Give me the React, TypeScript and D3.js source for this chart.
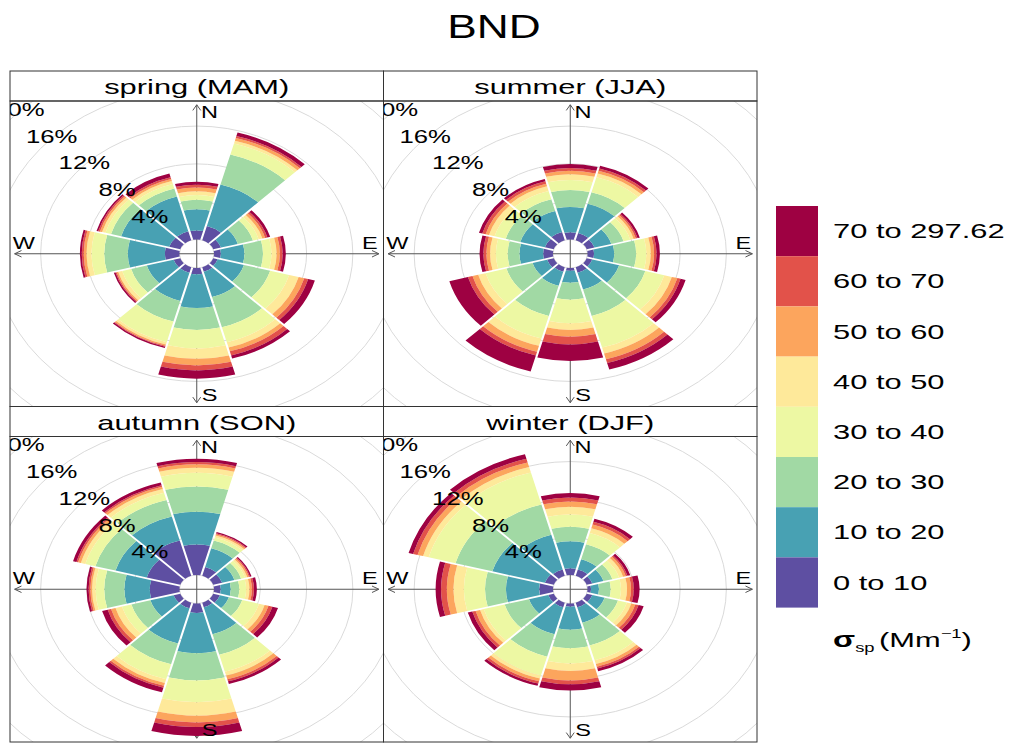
import React from "react";
import * as d3 from "d3";

// Wind sectors (degrees clockwise from north), 30° wide
const directions = [0, 30, 60, 90, 120, 150, 180, 210, 240, 270, 300, 330];

// Scattering-coefficient bins (Mm^-1)
const binLabels = [
  "0 to 10",
  "10 to 20",
  "20 to 30",
  "30 to 40",
  "40 to 50",
  "50 to 60",
  "60 to 70",
  "70 to 297.62",
];

const seasonNames = ["spring (MAM)", "summer (JJA)", "autumn (SON)", "winter (DJF)"];

// Frequency (%) of each bin per sector, one row per direction
const springFreq = [
  [0.96, 2.24, 1.0, 0.5, 0.4, 0.4, 0.3, 0.3],
  [1.55, 4.55, 3.3, 1.2, 0.3, 0.3, 0.2, 0.4],
  [0.7, 1.5, 1.36, 0.51, 0.33, 0.25, 0.2, 0.25],
  [0.58, 2.04, 1.61, 0.73, 0.44, 0.29, 0.24, 0.27],
  [0.4, 2.35, 2.35, 1.7, 0.85, 0.5, 0.35, 0.6],
  [0.5, 2.77, 3.3, 1.63, 0.6, 0.4, 0.45, 0.35],
  [0.67, 3.57, 2.32, 1.94, 1.1, 0.7, 0.53, 0.87],
  [0.6, 3.1, 2.25, 2.25, 0.25, 0.15, 0.1, 0.15],
  [0.6, 2.4, 1.4, 0.8, 0.36, 0.14, 0.1, 0.15],
  [1.25, 3.21, 2.04, 1.1, 0.43, 0.24, 0.17, 0.16],
  [1.0, 4.3, 0.9, 0.5, 0.3, 0.2, 0.15, 0.15],
  [1.0, 3.8, 0.86, 0.49, 0.33, 0.22, 0.2, 0.4],
];

const summerFreq = [
  [0.78, 2.67, 1.79, 1.06, 0.6, 0.37, 0.29, 0.42],
  [0.8, 3.2, 1.25, 1.65, 0.4, 0.3, 0.25, 0.3],
  [0.7, 1.5, 1.1, 0.6, 0.3, 0.2, 0.15, 0.2],
  [0.55, 1.75, 1.9, 0.88, 0.38, 0.29, 0.21, 0.29],
  [0.5, 2.4, 2.35, 1.69, 0.68, 0.5, 0.28, 0.45],
  [0.6, 1.85, 2.88, 3.47, 0.65, 0.62, 0.41, 0.72],
  [0.3, 1.27, 1.78, 2.5, 0.71, 0.71, 0.82, 1.75],
  [0.5, 1.54, 3.29, 2.47, 0.8, 0.64, 0.41, 1.75],
  [0.6, 1.3, 2.34, 1.86, 0.67, 0.51, 0.41, 1.66],
  [0.84, 2.05, 1.02, 1.02, 0.5, 0.32, 0.26, 0.33],
  [0.8, 2.2, 1.3, 1.0, 0.5, 0.3, 0.3, 0.3],
  [0.9, 2.3, 1.3, 0.9, 0.5, 0.3, 0.25, 0.25],
];

const autumnFreq = [
  [3.24, 3.46, 2.67, 1.43, 0.53, 0.37, 0.24, 0.36],
  [0.97, 2.03, 0.85, 0.35, 0.2, 0.15, 0.1, 0.15],
  [0.8, 1.1, 0.6, 0.35, 0.2, 0.15, 0.1, 0.13],
  [0.58, 0.87, 0.73, 0.59, 0.29, 0.21, 0.18, 0.25],
  [0.6, 0.8, 1.2, 1.5, 0.5, 0.35, 0.35, 0.5],
  [0.5, 2.94, 2.26, 1.85, 0.42, 0.41, 0.22, 0.3],
  [1.0, 4.27, 2.86, 2.31, 1.43, 0.71, 0.47, 0.95],
  [0.6, 3.87, 2.26, 1.65, 0.42, 0.3, 0.2, 0.5],
  [0.6, 2.08, 1.7, 0.84, 0.58, 0.4, 0.3, 0.5],
  [2.56, 2.2, 1.74, 0.74, 0.31, 0.15, 0.15, 0.18],
  [3.0, 2.8, 1.8, 0.9, 0.4, 0.25, 0.15, 0.3],
  [3.85, 2.65, 1.8, 0.8, 0.4, 0.25, 0.15, 0.3],
];

const winterFreq = [
  [0.71, 2.85, 1.54, 1.3, 0.83, 0.54, 0.43, 0.46],
  [0.7, 1.1, 1.64, 1.23, 0.53, 0.4, 0.3, 0.35],
  [0.5, 1.0, 0.8, 0.6, 0.35, 0.25, 0.15, 0.25],
  [0.3, 0.69, 1.01, 0.89, 0.52, 0.35, 0.24, 0.5],
  [0.5, 1.1, 1.2, 0.8, 0.4, 0.35, 0.3, 0.45],
  [0.5, 1.7, 2.47, 1.63, 0.4, 0.3, 0.2, 0.3],
  [0.35, 2.43, 1.96, 1.6, 0.79, 1.0, 0.42, 0.65],
  [0.5, 2.94, 2.46, 2.07, 0.33, 0.3, 0.25, 0.25],
  [0.5, 1.72, 2.18, 1.87, 0.33, 0.4, 0.3, 0.4],
  [1.19, 2.87, 1.81, 1.83, 0.9, 0.57, 0.5, 0.47],
  [0.8, 4.7, 3.3, 2.4, 0.5, 0.5, 0.4, 0.4],
  [0.7, 3.8, 3.3, 3.5, 0.6, 0.5, 0.4, 0.5],
];

const seasonFreqs = [springFreq, summerFreq, autumnFreq, winterFreq];

// Grid rings (%) and their labels
const ringTicks = [0, 4, 8, 12, 16, 20];
const ringLabelTicks = [4, 8, 12, 16, 20];

const compass = [
  { label: "N", ang: 0 },
  { label: "E", ang: 90 },
  { label: "S", ang: 180 },
  { label: "W", ang: 270 },
];

// ---- layout ----
const FONT = "'Liberation Sans', Arial, Helvetica, sans-serif";
const TX = 1.47; // horizontal text stretch
const colX = [10, 383.5];
const panelW = 373.5;
const rowY = [71, 406.5];
const stripH = 30;
const plotH = 305.5;
const HOLE = 1.5; // empty centre, in % units
const DOM = 16.15; // half-extent of each panel in radius units
const UPPER = 15.75; // axis arrow length in radius units

const binColors = (() => {
  const interp = d3.piecewise(d3.interpolateRgb, d3.schemeSpectral[11].slice().reverse());
  return binLabels.map((_, i) => interp(i / (binLabels.length - 1)));
})();

const deg = Math.PI / 180;

function SText({ x, y, size, children, anchor = "middle", sx = TX, weight = "normal", baseline = "central" }: any) {
  return (
    <text
      transform={`translate(${x},${y}) scale(${sx},1)`}
      textAnchor={anchor}
      dominantBaseline={baseline}
      fontSize={size}
      fontFamily={FONT}
      fontWeight={weight}
      fill="#000"
    >
      {children}
    </text>
  );
}

function Panel({ idx }: { idx: number }) {
  const col = idx % 2;
  const row = Math.floor(idx / 2);
  const x0 = colX[col];
  const y0 = rowY[row];
  const plotTop = y0 + stripH;
  const xs = d3.scaleLinear().domain([-DOM, DOM]).range([x0, x0 + panelW]);
  const ys = d3.scaleLinear().domain([-DOM, DOM]).range([plotTop + plotH, plotTop]);
  const rScale = d3.scaleLinear().domain([0, 20]).range([HOLE, HOLE + 20]);
  const cx = xs(0);
  const cy = ys(0);
  const kx = xs(1) - xs(0);
  const ky = ys(0) - ys(1);
  const freq = seasonFreqs[idx];
  const clipId = `clip-${idx}`;

  const arcGen = d3.arc<any>().padAngle(0.018).padRadius(10);

  // axis with arrowheads at both ends
  const L = 6.5;
  const stretch = kx / ky;
  const ax = UPPER * kx;
  const ay = UPPER * ky;
  const wingX = L * Math.cos(30 * deg) * stretch;
  const wingY = L * Math.sin(30 * deg);
  const axisPaths = [
    `M${cx - ax},${cy}L${cx + ax},${cy}`,
    `M${cx + ax - wingX},${cy - wingY}L${cx + ax},${cy}L${cx + ax - wingX},${cy + wingY}`,
    `M${cx - ax + wingX},${cy - wingY}L${cx - ax},${cy}L${cx - ax + wingX},${cy + wingY}`,
    `M${cx},${cy - ay}L${cx},${cy + ay}`,
    `M${cx - wingY * stretch},${cy - ay + L * Math.cos(30 * deg)}L${cx},${cy - ay}L${cx + wingY * stretch},${cy - ay + L * Math.cos(30 * deg)}`,
    `M${cx - wingY * stretch},${cy + ay - L * Math.cos(30 * deg)}L${cx},${cy + ay}L${cx + wingY * stretch},${cy + ay - L * Math.cos(30 * deg)}`,
  ];

  const compassPos = (ang: number) => {
    const u = UPPER;
    if (ang === 0) return [xs(0.07 * u), ys(0.95 * u)];
    if (ang === 180) return [xs(0.07 * u), ys(-0.95 * u)];
    if (ang === 90) return [xs(0.95 * u), ys(0.07 * u)];
    return [xs(-0.95 * u), ys(0.07 * u)];
  };

  return (
    <g>
      <defs>
        <clipPath id={clipId}>
          <rect x={x0} y={plotTop} width={panelW} height={plotH} />
        </clipPath>
      </defs>
      <g clipPath={`url(#${clipId})`}>
        {ringTicks.map((t) => (
          <ellipse
            key={t}
            cx={cx}
            cy={cy}
            rx={rScale(t) * kx}
            ry={rScale(t) * ky}
            fill="none"
            stroke="#dadada"
            strokeWidth={1}
          />
        ))}
        {axisPaths.map((d, i) => (
          <path key={i} d={d} fill="none" stroke="#555" strokeWidth={1} />
        ))}
        <g transform={`translate(${cx},${cy}) scale(${kx},${ky})`}>
          {directions.map((dir, di) => {
            const cum = d3.cumsum(freq[di]);
            return freq[di].map((v, bi) => {
              const lo = bi === 0 ? 0 : cum[bi - 1];
              const hi = cum[bi];
              const d = arcGen({
                innerRadius: rScale(lo),
                outerRadius: rScale(hi),
                startAngle: (dir - 15) * deg,
                endAngle: (dir + 15) * deg,
              });
              return <path key={`${di}-${bi}`} d={d || ""} fill={binColors[bi]} />;
            });
          })}
        </g>
        {compass.map((c) => {
          const [px, py] = compassPos(c.ang);
          return (
            <SText key={c.label} x={px} y={py} size={16}>
              {c.label}
            </SText>
          );
        })}
        {ringLabelTicks.map((t) => {
          const r = rScale(t);
          return (
            <SText key={t} x={xs(-r * Math.SQRT1_2) - 2} y={ys(r * Math.SQRT1_2)} size={17.5}>
              {`${t}%`}
            </SText>
          );
        })}
      </g>
      {/* strip */}
      <rect x={x0} y={y0} width={panelW} height={stripH} fill="#fff" stroke="#333" strokeWidth={1} />
      <SText x={x0 + panelW / 2} y={y0 + stripH / 2 + 1} size={21}>
        {seasonNames[idx]}
      </SText>
      <rect x={x0} y={plotTop} width={panelW} height={plotH} fill="none" stroke="#333" strokeWidth={1} />
    </g>
  );
}

function Legend() {
  const x = 776;
  const w = 42;
  const top = 206;
  const h = 50.2;
  const order = binLabels.map((_, i) => binLabels.length - 1 - i);
  return (
    <g>
      {order.map((bi, k) => (
        <g key={bi}>
          <rect x={x} y={top + k * h} width={w} height={h} fill={binColors[bi]} />
          <SText x={833} y={top + k * h + h / 2} size={21} anchor="start">
            {binLabels[bi]}
          </SText>
        </g>
      ))}
      <text
        transform={`translate(833,647) scale(${TX},1)`}
        fontFamily={FONT}
        fontSize={21}
        fill="#000"
      >
        <tspan fontWeight="bold" fontSize={22}>σ</tspan>
        <tspan fontSize={12.5} dy={5}>sp</tspan>
        <tspan dy={-5} dx={3}>(Mm</tspan>
        <tspan fontSize={12.5} dy={-9}>−1</tspan>
        <tspan dy={9}>)</tspan>
      </text>
    </g>
  );
}

export default function App() {
  return (
    <svg
      width={1010}
      height={745}
      style={{ position: "absolute", left: 0, top: 0, background: "#fff" }}
    >
      <rect x={0} y={0} width={1010} height={745} fill="#fff" />
      <SText x={494} y={38} size={34} sx={1.3} baseline="auto">
        BND
      </SText>
      {[0, 1, 2, 3].map((i) => (
        <Panel key={i} idx={i} />
      ))}
      <Legend />
    </svg>
  );
}
